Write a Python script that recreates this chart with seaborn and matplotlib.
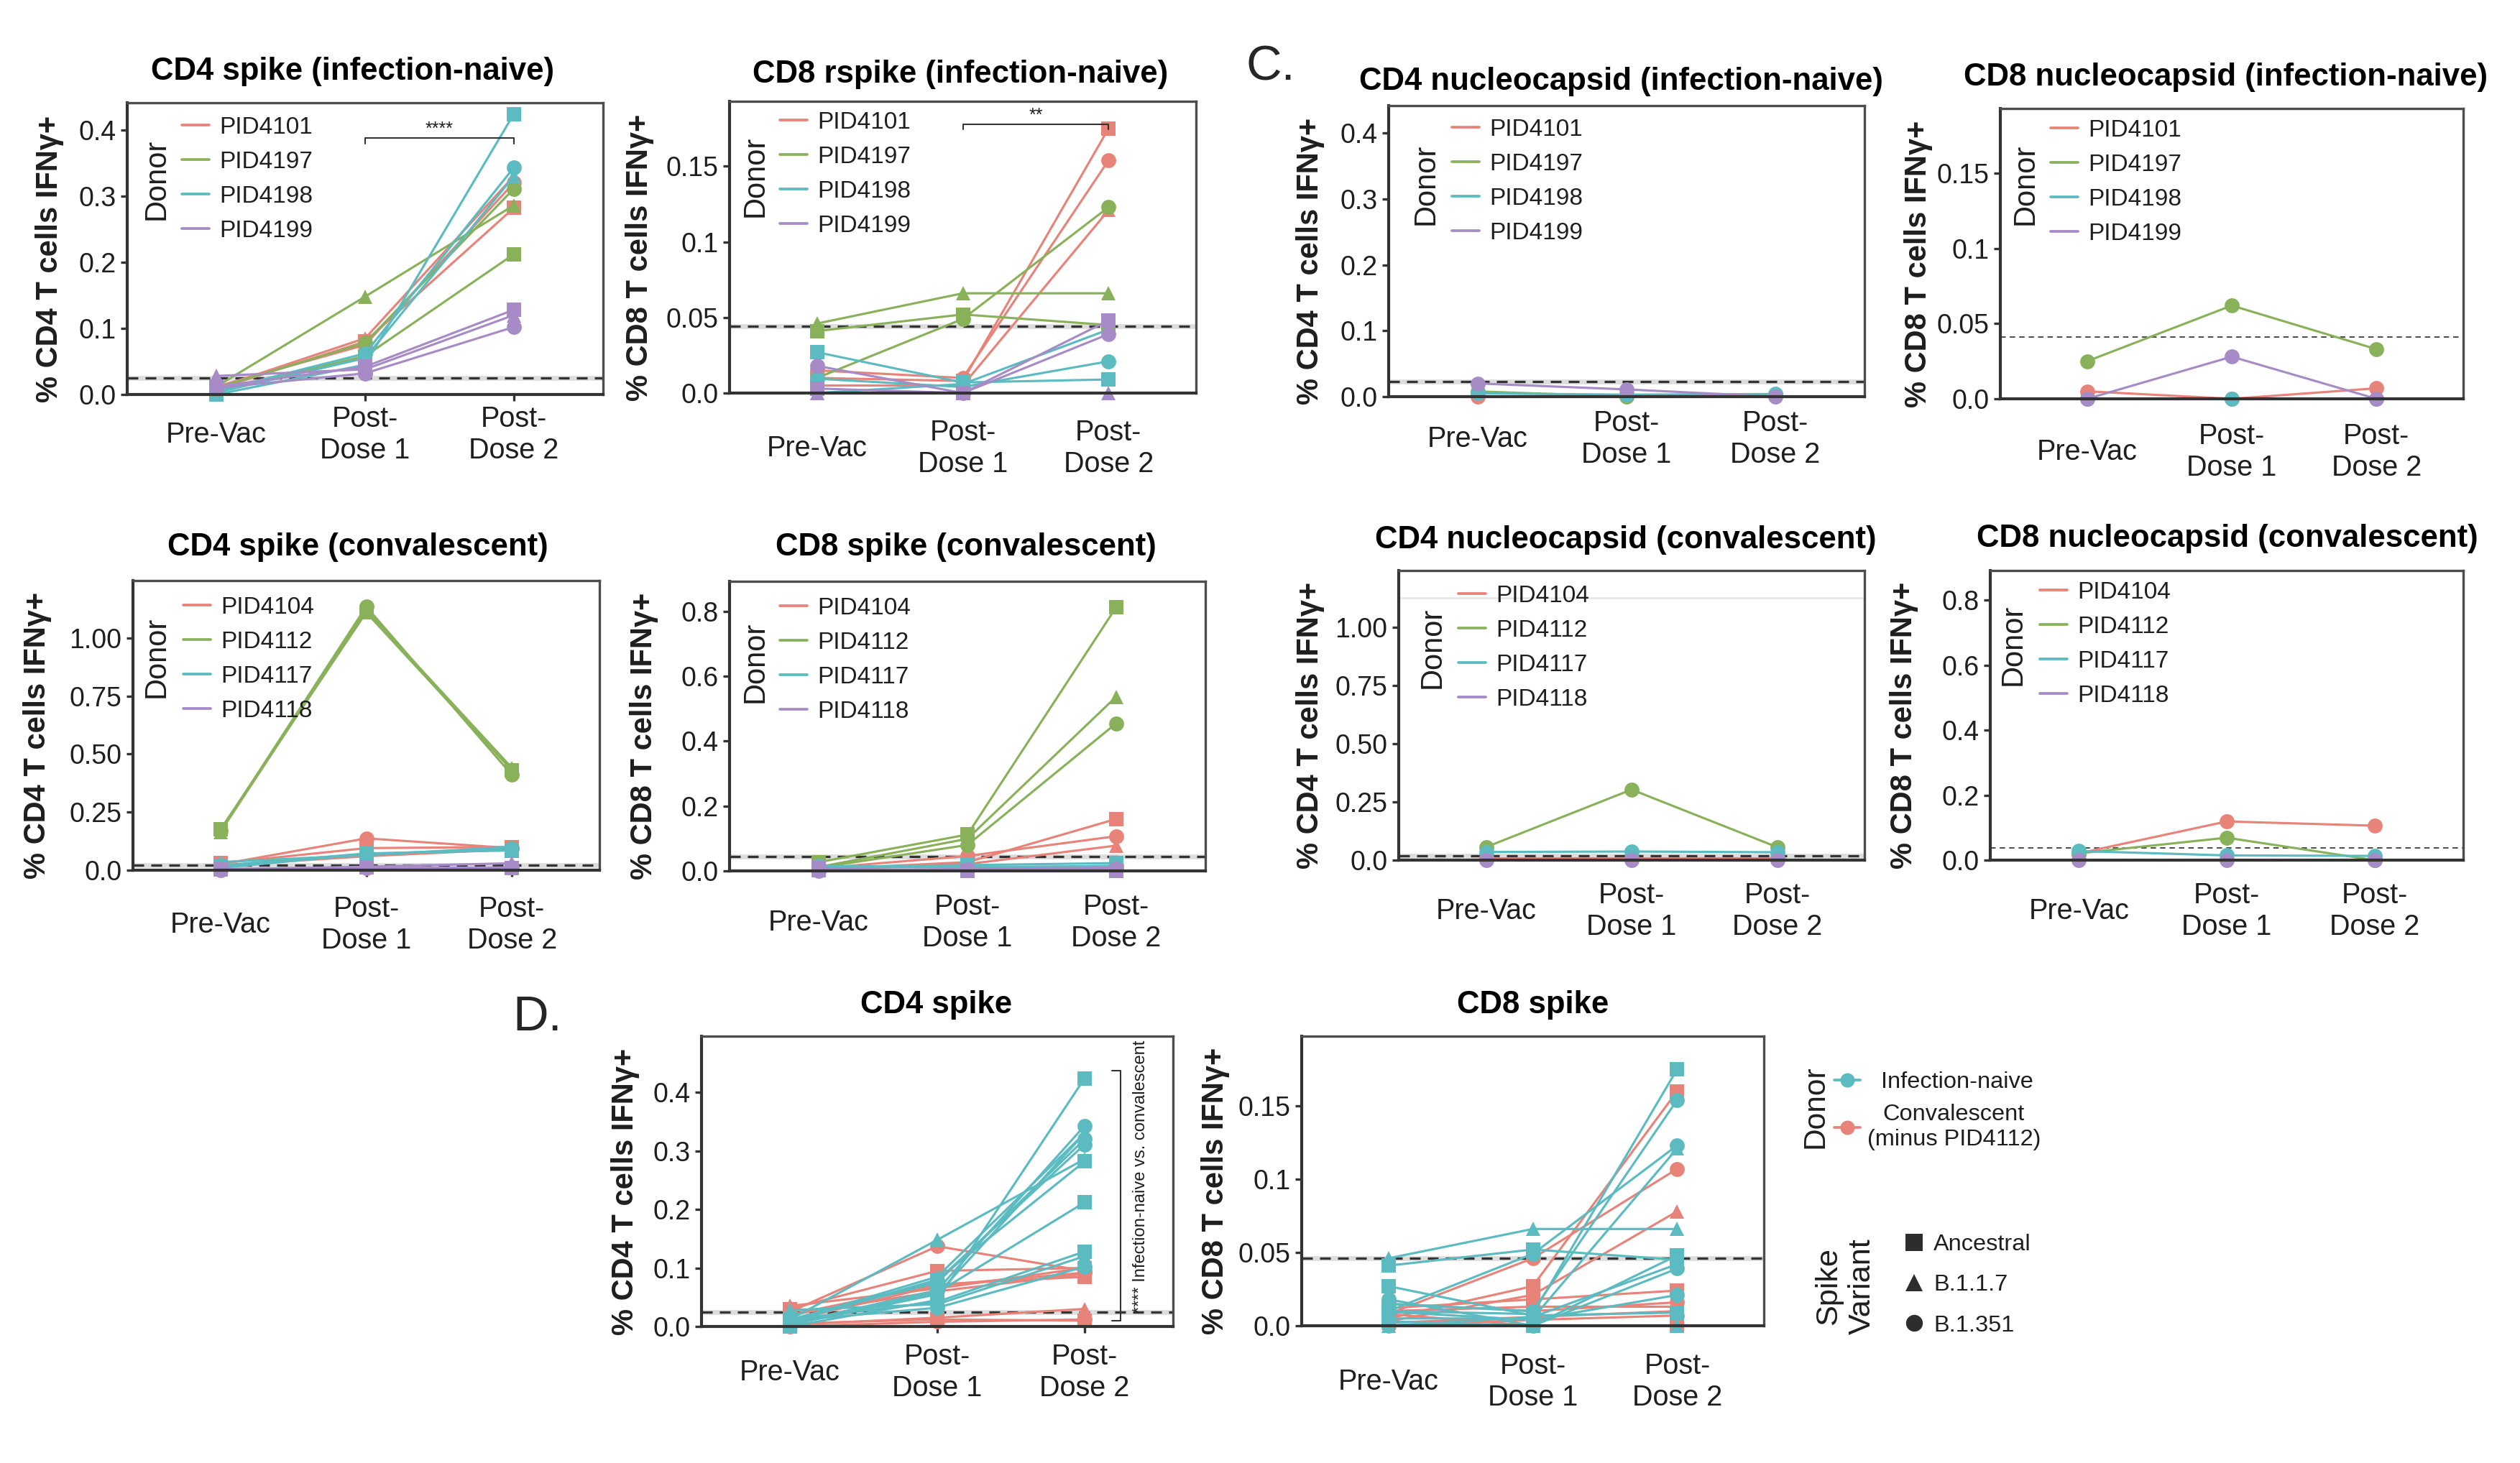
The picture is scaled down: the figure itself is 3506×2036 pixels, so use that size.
import numpy as np
import pandas as pd
import matplotlib
matplotlib.use("Agg")
import matplotlib.pyplot as plt
from matplotlib.lines import Line2D
import seaborn as sns

# ---------------------------------------------------------------- data
TIMEPOINTS = ["Pre-Vac", "Post-\nDose 1", "Post-\nDose 2"]
VARIANTS = ["Ancestral", "B.1.1.7", "B.1.351"]
NAIVE_DONORS = ["PID4101", "PID4197", "PID4198", "PID4199"]
CONV_DONORS = ["PID4104", "PID4112", "PID4117", "PID4118"]
EXCLUDED_CONV = "PID4112"
GROUPS = ["Infection-naive", "Convalescent\n(minus PID4112)"]

# spike panels: donor -> [Ancestral, B.1.1.7, B.1.351] -> [Pre, PD1, PD2]
CD4_SPIKE_NAIVE = [
    [[0.008, 0.080, 0.282], [0.010, 0.085, 0.330], [0.012, 0.075, 0.320]],
    [[0.005, 0.058, 0.212], [0.012, 0.148, 0.286], [0.010, 0.078, 0.311]],
    [[0.000, 0.045, 0.424], [0.003, 0.055, 0.330], [0.005, 0.062, 0.343]],
    [[0.012, 0.042, 0.128], [0.028, 0.038, 0.120], [0.010, 0.032, 0.102]],
]
CD8_SPIKE_NAIVE = [
    [[0.010, 0.008, 0.175], [0.005, 0.005, 0.121], [0.015, 0.010, 0.154]],
    [[0.041, 0.052, 0.045], [0.046, 0.066, 0.066], [0.010, 0.049, 0.123]],
    [[0.027, 0.007, 0.009], [0.000, 0.006, 0.042], [0.0095, 0.004, 0.021]],
    [[0.003, 0.000, 0.048], [0.000, 0.000, 0.000], [0.018, 0.000, 0.039]],
]
CD4_SPIKE_CONV = [
    [[0.030, 0.095, 0.100], [0.020, 0.060, 0.090], [0.025, 0.137, 0.095]],
    [[0.175, 1.110, 0.430], [0.165, 1.120, 0.440], [0.170, 1.135, 0.410]],
    [[0.020, 0.072, 0.085], [0.035, 0.065, 0.100], [0.010, 0.070, 0.092]],
    [[0.005, 0.012, 0.010], [0.003, 0.015, 0.030], [0.000, 0.008, 0.012]],
]
CD8_SPIKE_CONV = [
    [[0.005, 0.027, 0.160], [0.003, 0.021, 0.078], [0.008, 0.046, 0.107]],
    [[0.027, 0.112, 0.813], [0.012, 0.099, 0.537], [0.010, 0.080, 0.455]],
    [[0.012, 0.018, 0.024], [0.010, 0.013, 0.013], [0.015, 0.010, 0.016]],
    [[0.008, 0.000, 0.000], [0.002, 0.006, 0.010], [0.000, 0.004, 0.007]],
]
# nucleocapsid panels: donor -> [Pre, PD1, PD2]
CD4_NUC_NAIVE = [[0.000, 0.002, 0.003], [0.008, 0.000, 0.002],
                 [0.005, 0.003, 0.004], [0.020, 0.011, 0.000]]
CD8_NUC_NAIVE = [[0.005, 0.000, 0.007], [0.025, 0.062, 0.033],
                 [0.000, 0.000, 0.000], [0.000, 0.028, 0.000]]
CD4_NUC_CONV = [[0.010, 0.010, 0.010], [0.056, 0.303, 0.056],
                [0.035, 0.037, 0.034], [0.000, 0.000, 0.000]]
CD8_NUC_CONV = [[0.021, 0.119, 0.106], [0.021, 0.069, 0.000],
                [0.028, 0.0145, 0.013], [0.000, 0.000, 0.000]]

# detection thresholds per panel
THRESHOLDS = {"A1": 0.025, "A2": 0.044, "B1": 0.023, "B2": 0.041,
              "A3": 0.022, "A4": 0.045, "B3": 0.019, "B4": 0.038,
              "D1": 0.0245, "D2": 0.046}
FAINT_LINE_B3 = 1.127

# significance annotations (x from, x to, y, drop, label)
SIG_A1 = (1, 2, 0.388, 0.009, "****")
SIG_A2 = (1, 2, 0.178, 0.0035, "**")
SIG_D1 = (2.243, 0.010, 0.437, "**** Infection-naive vs. convalescent")

# ---------------------------------------------------------------- style
DONOR_COLORS = ["#E8837A", "#88B15A", "#5BBBC1", "#A68BC6"]
GROUP_COLORS = ["#5BBBC1", "#E8837A"]
MARKERS = {"Ancestral": "s", "B.1.1.7": "^", "B.1.351": "o"}
TXT = "#1e1e1e"

W, H, DPI = 3506, 2036, 300

sns.set_theme(style="ticks")
plt.rcParams["font.family"] = ["Liberation Sans", "DejaVu Sans"]
plt.rcParams["axes.facecolor"] = "white"

fig = plt.figure(figsize=(W / DPI, H / DPI), dpi=DPI)
fig.patch.set_facecolor("white")


def spike_frame(values, donors):
    rows = []
    for donor, per_var in zip(donors, values):
        for variant, series in zip(VARIANTS, per_var):
            for t, v in enumerate(series):
                rows.append((donor, variant, t, v))
    return pd.DataFrame(rows, columns=["Donor", "Variant", "tp", "val"])


def nuc_frame(values, donors):
    rows = []
    for donor, series in zip(donors, values):
        for t, v in enumerate(series):
            rows.append((donor, "B.1.351", t, v))
    return pd.DataFrame(rows, columns=["Donor", "Variant", "tp", "val"])


def px_axes(rect):
    l, r, t, b = rect
    return fig.add_axes([l / W, 1 - b / H, (r - l) / W, (b - t) / H])


def style_axes(ax, spec):
    ax.set_xlim(-0.6, 2.6)
    ax.set_ylim(*spec["ylim"])
    ax.set_xticks(range(3))
    ax.set_xticklabels(TIMEPOINTS, fontsize=9.5, va="center", color=TXT,
                       linespacing=1.2)
    ax.set_yticks(spec["yticks"])
    ax.set_yticklabels(spec["yticklabels"], fontsize=9, color=TXT)
    ax.tick_params(axis="both", direction="out", length=2.2, width=0.8,
                   color="#333333")
    ax.tick_params(axis="x", pad=spec["xpad"] * 72 / DPI - 2.2)
    ax.tick_params(axis="y", pad=1.5)
    ax.set_xlabel("")
    ax.set_ylabel("")
    ax.grid(False)
    for s in ["left", "bottom"]:
        ax.spines[s].set_color("#333333")
        ax.spines[s].set_linewidth(1.0)
    for s in ["top", "right"]:
        ax.spines[s].set_color("#4d4d4d")
        ax.spines[s].set_linewidth(0.8)
    l, r, t, b = spec["rect"]
    fig.text(spec["title_xy"][0] / W, 1 - spec["title_xy"][1] / H,
             spec["title"], ha="center", va="center", fontsize=10.5,
             fontweight="bold", color="black")
    fig.text((l + spec["ylab_dx"]) / W, 1 - ((t + b) / 2 + 14) / H,
             spec["ylabel"], rotation=90, ha="center", va="center",
             fontsize=10, fontweight="bold", color=TXT)


def threshold(ax, y, thin=False):
    if thin:
        ax.axhline(y, color="#444444", lw=0.45, ls=(0, (4, 3)), zorder=1.6)
    else:
        ax.axhline(y, color="#dddddd", lw=1.6, zorder=1.5)
        ax.axhline(y, color="#333333", lw=0.8, ls=(0, (4.5, 3.0)), zorder=1.6)


def donor_legend(ax, donors, rect, off):
    l, r, t, b = rect
    aw, ah = r - l, b - t
    hx, cy, dx, dy = off
    handles = [Line2D([], [], color=c, lw=0.9) for c in DONOR_COLORS]
    leg = ax.legend(handles, donors, loc="upper left",
                    bbox_to_anchor=(hx / aw, 1 - (cy - 16) / ah),
                    frameon=False, fontsize=8, handlelength=1.15,
                    handletextpad=0.42, labelspacing=0.51, borderpad=0,
                    borderaxespad=0)
    for tx in leg.get_texts():
        tx.set_color(TXT)
    ax.text(dx / aw, 1 - dy / ah, "Donor", transform=ax.transAxes,
            rotation=90, fontsize=10, ha="center", va="center", color=TXT)


def draw_lines(ax, df, hue, hue_order, palette, units=None):
    styles = [v for v in VARIANTS if v in set(df["Variant"])]
    sns.lineplot(data=df, x="tp", y="val", hue=hue, hue_order=hue_order,
                 palette=palette, style="Variant", style_order=styles,
                 markers=MARKERS, dashes=False, units=units, estimator=None,
                 legend=False, ax=ax, linewidth=0.75, markersize=5.0,
                 markeredgewidth=0, clip_on=False, zorder=2)


YT_CD4 = ([0, 0.1, 0.2, 0.3, 0.4], ["0.0", "0.1", "0.2", "0.3", "0.4"])
YT_CD8 = ([0, 0.05, 0.1, 0.15], ["0.0", "0.05", "0.1", "0.15"])
YT_CD4C = ([0, 0.25, 0.5, 0.75, 1.0], ["0.0", "0.25", "0.50", "0.75", "1.00"])
YT_CD8C = ([0, 0.2, 0.4, 0.6, 0.8], ["0.0", "0.2", "0.4", "0.6", "0.8"])
YL4 = "% CD4 T cells IFNγ+"
YL8 = "% CD8 T cells IFNγ+"

panels = [
    dict(key="A1", df=spike_frame(CD4_SPIKE_NAIVE, NAIVE_DONORS), donors=NAIVE_DONORS,
         rect=(177, 839, 143, 549), title="CD4 spike (infection-naive)", title_xy=(491, 100),
         ylabel=YL4, ylab_dx=-108, ylim=(0, 0.441), yt=YT_CD4, xpad=56,
         leg=(76, 35, 41, 106), thin=False),
    dict(key="A2", df=spike_frame(CD8_SPIKE_NAIVE, NAIVE_DONORS), donors=NAIVE_DONORS,
         rect=(1015, 1664, 141, 547), title="CD8 rspike (infection-naive)", title_xy=(1336, 103),
         ylabel=YL8, ylab_dx=-125, ylim=(0, 0.193), yt=YT_CD8, xpad=77,
         leg=(70, 30, 36, 104), thin=False),
    dict(key="B1", df=nuc_frame(CD4_NUC_NAIVE, NAIVE_DONORS), donors=NAIVE_DONORS,
         rect=(1932, 2594, 147, 552), title="CD4 nucleocapsid (infection-naive)", title_xy=(2255, 114),
         ylabel=YL4, ylab_dx=-109, ylim=(0, 0.442), yt=YT_CD4, xpad=59,
         leg=(88, 34, 52, 109), thin=False),
    dict(key="B2", df=nuc_frame(CD8_NUC_NAIVE, NAIVE_DONORS), donors=NAIVE_DONORS,
         rect=(2783, 3427, 151, 555), title="CD8 nucleocapsid (infection-naive)", title_xy=(3096, 108),
         ylabel=YL8, ylab_dx=-114, ylim=(0, 0.193), yt=YT_CD8, xpad=74,
         leg=(70, 31, 35, 105), thin=True),
    dict(key="A3", df=spike_frame(CD4_SPIKE_CONV, CONV_DONORS), donors=CONV_DONORS,
         rect=(185, 834, 808, 1211), title="CD4 spike (convalescent)", title_xy=(498, 762),
         ylabel=YL4, ylab_dx=-133, ylim=(0, 1.247), yt=YT_CD4C, xpad=76,
         leg=(70, 38, 33, 106), thin=False),
    dict(key="A4", df=spike_frame(CD8_SPIKE_CONV, CONV_DONORS), donors=CONV_DONORS,
         rect=(1015, 1677, 809, 1212), title="CD8 spike (convalescent)", title_xy=(1344, 762),
         ylabel=YL8, ylab_dx=-119, ylim=(0, 0.893), yt=YT_CD8C, xpad=72,
         leg=(70, 38, 36, 112), thin=False),
    dict(key="B3", df=nuc_frame(CD4_NUC_CONV, CONV_DONORS), donors=CONV_DONORS,
         rect=(1946, 2594, 794, 1197), title="CD4 nucleocapsid (convalescent)", title_xy=(2262, 752),
         ylabel=YL4, ylab_dx=-123, ylim=(0, 1.244), yt=YT_CD4C, xpad=71,
         leg=(83, 36, 47, 107), thin=False),
    dict(key="B4", df=nuc_frame(CD8_NUC_CONV, CONV_DONORS), donors=CONV_DONORS,
         rect=(2769, 3427, 794, 1197), title="CD8 nucleocapsid (convalescent)", title_xy=(3099, 749),
         ylabel=YL8, ylab_dx=-120, ylim=(0, 0.891), yt=YT_CD8C, xpad=71,
         leg=(69, 31, 32, 103), thin=True),
]

axes = {}
for spec in panels:
    ax = px_axes(spec["rect"])
    spec["yticks"], spec["yticklabels"] = spec["yt"]
    threshold(ax, THRESHOLDS[spec["key"]], thin=spec["thin"])
    draw_lines(ax, spec["df"], "Donor", spec["donors"], DONOR_COLORS)
    style_axes(ax, spec)
    donor_legend(ax, spec["donors"], spec["rect"], spec["leg"])
    axes[spec["key"]] = ax

axes["B3"].axhline(FAINT_LINE_B3, color="#e6e6e6", lw=0.6, zorder=1)

# significance brackets (panel A)
for key, (x1, x2, y, drop, lab) in (("A1", SIG_A1), ("A2", SIG_A2)):
    ax = axes[key]
    ax.plot([x1, x1, x2, x2], [y - drop, y, y, y - drop], color="#333333",
            lw=0.5, clip_on=False, zorder=3)
    ax.text((x1 + x2) / 2, y, lab, ha="center", va="bottom", fontsize=6,
            color=TXT)

# ---------------------------------------------------------------- panel D
def combined_frame(naive_vals, conv_vals):
    a = spike_frame(naive_vals, NAIVE_DONORS)
    a["Group"] = GROUPS[0]
    b = spike_frame(conv_vals, CONV_DONORS)
    b = b[b["Donor"] != EXCLUDED_CONV].copy()
    b["Group"] = GROUPS[1]
    return pd.concat([a, b], ignore_index=True)


d_panels = [
    dict(key="D1", df=combined_frame(CD4_SPIKE_NAIVE, CD4_SPIKE_CONV),
         rect=(976, 1632, 1442, 1846), title="CD4 spike", title_xy=(1303, 1398),
         ylabel=YL4, ylab_dx=-106, ylim=(0, 0.496), yt=YT_CD4, xpad=64),
    dict(key="D2", df=combined_frame(CD8_SPIKE_NAIVE, CD8_SPIKE_CONV),
         rect=(1811, 2454, 1442, 1845), title="CD8 spike", title_xy=(2133, 1398),
         ylabel=YL8, ylab_dx=-120, ylim=(0, 0.1975), yt=YT_CD8, xpad=78),
]
# convalescent drawn first so that infection-naive lines sit on top
D_DRAW_ORDER = [GROUPS[1], GROUPS[0]]
D_DRAW_COLORS = [GROUP_COLORS[1], GROUP_COLORS[0]]
for spec in d_panels:
    ax = px_axes(spec["rect"])
    spec["yticks"], spec["yticklabels"] = spec["yt"]
    threshold(ax, THRESHOLDS[spec["key"]])
    draw_lines(ax, spec["df"], "Group", D_DRAW_ORDER, D_DRAW_COLORS,
               units="Donor")
    style_axes(ax, spec)
    axes[spec["key"]] = ax

ax = axes["D1"]
xb, y0, y1, lab = SIG_D1
ax.plot([xb - 0.058, xb, xb, xb - 0.058], [y1, y1, y0, y0], color="#333333",
        lw=0.5, clip_on=False)
ax.text(xb + 0.137, y0 + 0.013, lab, rotation=90, ha="center", va="bottom",
        fontsize=5.7, color=TXT, clip_on=False)

# legends for panel D
g_handles = [Line2D([], [], color=c, marker="o", markersize=4.8, lw=0.9,
                    markeredgewidth=0) for c in GROUP_COLORS]
leg1 = fig.legend(g_handles, GROUPS, loc="upper left",
                  bbox_to_anchor=(2552 / W, 1 - 1491 / H), frameon=False,
                  fontsize=7.8, handlelength=1.1, handletextpad=0.3,
                  labelspacing=0.46, borderpad=0, borderaxespad=0)
for tx in leg1.get_texts():
    tx.set_multialignment("center")
    tx.set_color(TXT)
    tx.set_linespacing(1.22)
leg1.get_texts()[0].set_position((20, 0))

v_handles = [Line2D([], [], color="#2d2d2d", marker=MARKERS[v], ls="none",
                    markersize=5.6, markeredgewidth=0) for v in VARIANTS]
leg2 = fig.legend(v_handles, VARIANTS, loc="upper left",
                  bbox_to_anchor=(2650 / W, 1 - 1717 / H), frameon=False,
                  fontsize=7.8, handlelength=0.8, handletextpad=0.43,
                  labelspacing=0.81, borderpad=0, borderaxespad=0)
for tx in leg2.get_texts():
    tx.set_color(TXT)

fig.text(2525 / W, 1 - 1540 / H, "Donor", rotation=90, ha="center",
         va="center", fontsize=10.2, color=TXT)
fig.text(2567 / W, 1 - 1790 / H, "Spike\nVariant", rotation=90, ha="center",
         va="center", fontsize=10.4, color=TXT, linespacing=1.22,
         multialignment="center")

# panel letters
fig.text(1768 / W, 1 - 93 / H, "C.", ha="center", va="center", fontsize=16.5,
         color="#262626")
fig.text(748 / W, 1 - 1416 / H, "D.", ha="center", va="center", fontsize=16.5,
         color="#262626")

fig.savefig("out.png", dpi=DPI, facecolor="white")
